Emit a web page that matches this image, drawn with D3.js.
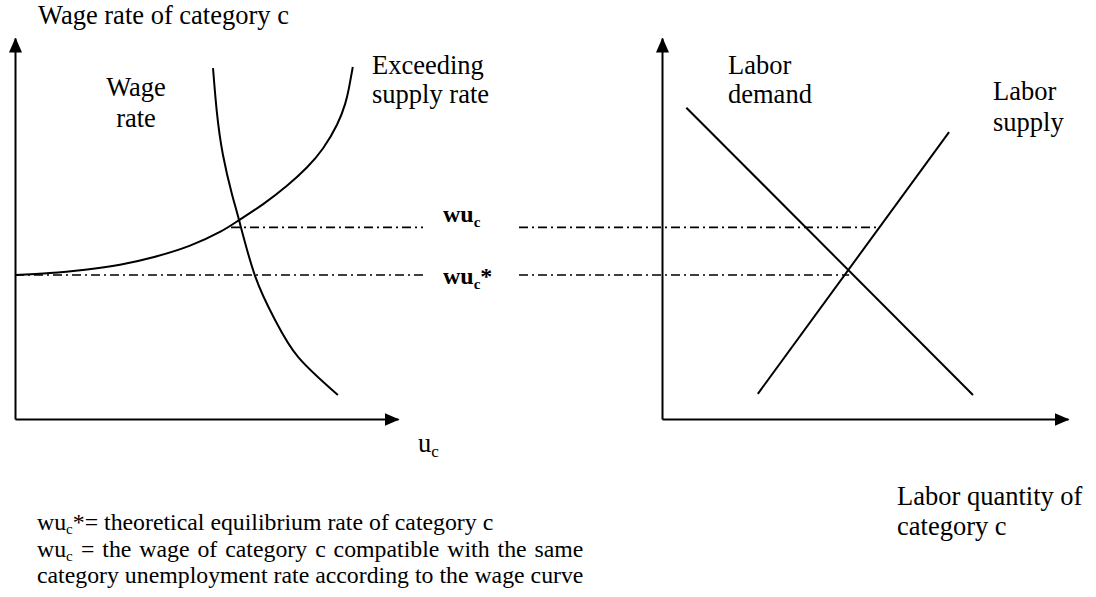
<!DOCTYPE html>
<html>
<head>
<meta charset="utf-8">
<script src="https://cdn.jsdelivr.net/npm/d3@7"></script>
<style>
  body { margin: 0; background: #fff; }
  svg text { font-family: "Liberation Serif", "Times New Roman", serif; fill: #000; }
</style>
</head>
<body>
<svg id="chart" width="1096" height="597"></svg>
<script>
// left panel: wage curve and exceeding supply rate (u_c on x, wage on y, 0-100 units)
const wageCurveU = [0, 9.1, 18.3, 27.4, 36.6, 45.7, 53.5, 58.5, 64.8, 71, 76.2, 80.4, 84.1, 86.2, 87.2, 88.2]
const wageCurveW = [37.8, 38.3, 39.2, 40.5, 42.6, 45.5, 49.1, 52.2, 56.4, 61.2, 66, 71, 77.3, 82.7, 86.9, 92.4]
const excessU = [51.7, 52.7, 54.3, 56.7, 58.5, 62.7, 67.9, 73.9, 84.3]
const excessW = [92.1, 80.6, 69.3, 58.8, 52.2, 37.5, 26, 16.3, 6.3]
// right panel: labor demand and supply (quantity on x)
const demandQ = [6, 76.6]
const demandW = [81.7, 6.3]
const supplyQ = [23.6, 70.7]
const supplyW = [6.6, 75.3]
// the two wage levels carried across both panels
const levelNames = ["wu", "wu"]
const levelStar = ["", "*"]
const levelW = [50.3, 37.8]
const levelStartU = [56.4, 0]     // where the guide starts in the left panel
const levelEndQ = [53.3, 46.1]    // where it stops in the right panel

const svg = d3.select("#chart")
const fs = 26.5      // labels
const fsNote = 23.8  // footnotes

const xL = d3.scaleLinear().domain([0, 100]).range([15, 398])
const xR = d3.scaleLinear().domain([0, 100]).range([662, 1068])
const y = d3.scaleLinear().domain([0, 100]).range([419, 38])

// arrow head
svg.append("defs").append("marker")
  .attr("id", "arrow")
  .attr("markerUnits", "userSpaceOnUse")
  .attr("viewBox", "0 -7 15 14")
  .attr("refX", 14).attr("refY", 0)
  .attr("markerWidth", 15).attr("markerHeight", 14)
  .attr("orient", "auto")
  .append("path").attr("d", "M0,-6.5L15,0L0,6.5Z").attr("fill", "#000")

function drawAxes(xs) {
  svg.append("g").attr("transform", "translate(0," + y(0) + ")")
    .call(d3.axisBottom(xs).ticks(0).tickSizeOuter(0))
  svg.append("g").attr("transform", "translate(" + xs(0) + ",0)")
    .call(d3.axisLeft(y).ticks(0).tickSizeOuter(0))
  svg.selectAll(".domain")
    .attr("stroke", "#000").attr("stroke-width", 2)
    .attr("marker-end", "url(#arrow)")
}
drawAxes(xL)
drawAxes(xR)

// dash-dot guides with a gap for the labels
const gap = [423, 519]
const guides = svg.append("g")
levelW.forEach(function(w, i) {
  guides.append("line")
    .attr("x1", xL(levelStartU[i])).attr("x2", gap[0])
    .attr("y1", y(w)).attr("y2", y(w))
  guides.append("line")
    .attr("x1", gap[1]).attr("x2", xR(levelEndQ[i]))
    .attr("y1", y(w)).attr("y2", y(w))
})
guides.selectAll("line")
  .attr("stroke", "#000").attr("stroke-width", 1.7)
  .attr("stroke-dasharray", "9,4,2,4")

const lineL = d3.line().x(d => xL(d[0])).y(d => y(d[1])).curve(d3.curveNatural)
const lineR = d3.line().x(d => xR(d[0])).y(d => y(d[1]))

svg.append("path").datum(d3.zip(wageCurveU, wageCurveW))
  .attr("d", lineL).attr("fill", "none").attr("stroke", "#000").attr("stroke-width", 2)
svg.append("path").datum(d3.zip(excessU, excessW))
  .attr("d", lineL).attr("fill", "none").attr("stroke", "#000").attr("stroke-width", 2)
svg.append("path").datum(d3.zip(demandQ, demandW))
  .attr("d", lineR).attr("fill", "none").attr("stroke", "#000").attr("stroke-width", 2)
svg.append("path").datum(d3.zip(supplyQ, supplyW))
  .attr("d", lineR).attr("fill", "none").attr("stroke", "#000").attr("stroke-width", 2)

// labels
function label(txt, x, yy, anchor, size) {
  return svg.append("text").attr("x", x).attr("y", yy)
    .attr("font-size", size || fs).attr("text-anchor", anchor || "start").text(txt)
}
label("Wage rate of category c", 38, 24)
label("Wage", 136, 96, "middle")
label("rate", 136, 127, "middle")
label("Exceeding", 372, 74)
label("supply rate", 372, 103)
label("Labor", 728, 74)
label("demand", 728, 103)
label("Labor", 993, 100)
label("supply", 993, 131)
label("Labor quantity of", 897, 505)
label("category c", 897, 535)

const uc = svg.append("text").attr("x", 418).attr("y", 452).attr("font-size", fs)
uc.append("tspan").text("u")
uc.append("tspan").attr("font-size", 17).attr("dy", 5).text("c")

const levelLabelY = [222, 284]
levelW.forEach(function(w, i) {
  const t = svg.append("text").attr("x", 443).attr("y", levelLabelY[i])
    .attr("font-size", 24).attr("font-weight", "bold")
  t.append("tspan").text(levelNames[i])
  t.append("tspan").attr("font-size", 15).attr("dy", 5).text("c")
  if (levelStar[i]) t.append("tspan").attr("dy", -5).text(levelStar[i])
})

// footnotes
const noteX = 37
const noteY = [530, 557, 583]
const n1 = svg.append("text").attr("x", noteX).attr("y", noteY[0]).attr("font-size", fsNote)
n1.append("tspan").text("wu")
n1.append("tspan").attr("font-size", 15).attr("dy", 4).text("c")
n1.append("tspan").attr("dy", -4).text("*= theoretical equilibrium rate of category c")

const n3 = label("category unemployment rate according to the wage curve", noteX, noteY[2], "start", fsNote)
const fullW = n3.node().getComputedTextLength()

// justified second line
const words2 = ["wu", "=", "the", "wage", "of", "category", "c", "compatible", "with", "the", "same"]
const g2 = svg.append("g")
const parts = words2.map(function(w, i) {
  const t = g2.append("text").attr("y", noteY[1]).attr("font-size", fsNote)
  t.append("tspan").text(w)
  if (i === 0) t.append("tspan").attr("font-size", 15).attr("dy", 4).text("c")
  return t
})
const widths = parts.map(t => t.node().getBBox().width)
const space = (fullW - d3.sum(widths)) / (words2.length - 1)
let cx = noteX
parts.forEach(function(t, i) {
  t.attr("x", cx)
  cx += widths[i] + space
})
</script>
</body>
</html>
